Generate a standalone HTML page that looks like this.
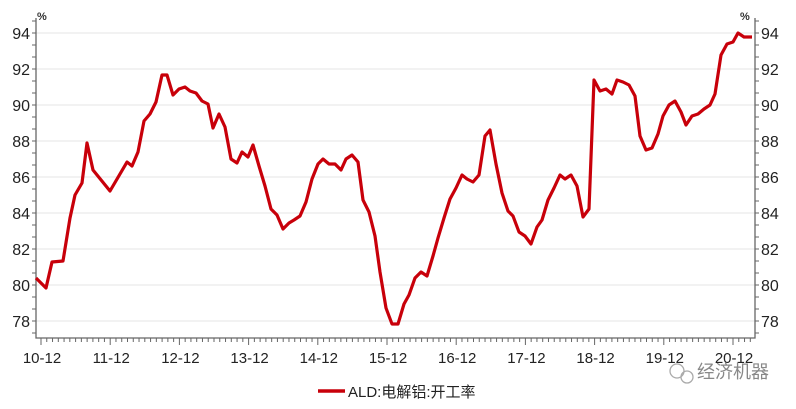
<!DOCTYPE html>
<html><head><meta charset="utf-8"><style>
body{margin:0;background:#fff;width:796px;height:404px;overflow:hidden}
svg text{font-family:"Liberation Sans","Noto Sans CJK SC",sans-serif}
</style></head><body>
<svg id="s" width="796" height="404" xmlns="http://www.w3.org/2000/svg"></svg>
<script>
const s=document.getElementById('s');let h='';
const Y=v=>33+(94-v)*18;
for(let v=78;v<=94;v+=2){const y=Y(v);
h+=`<line x1="36" x2="755" y1="${y}" y2="${y}" stroke="#e6e6e6" stroke-width="1"/>`;
h+=`<text x="30" y="${y+6}" font-size="16" text-anchor="end" fill="#222">${v}</text>`;
h+=`<text x="761" y="${y+6}" font-size="16" fill="#222">${v}</text>`;}
h+=`<path d="M36 18V338H755V18" fill="none" stroke="#666" stroke-width="1.3"/>`;
for(let y=21;y<=338;y+=12){h+=`<line x1="32" x2="36" y1="${y}" y2="${y}" stroke="#666"/><line x1="755" x2="759" y1="${y}" y2="${y}" stroke="#666"/>`;}
h+=`<text x="37" y="20" font-size="11" font-weight="bold" fill="#333">%</text><text x="740" y="20" font-size="11" font-weight="bold" fill="#333">%</text>`;
const labs=['10-12','11-12','12-12','13-12','14-12','15-12','16-12','17-12','18-12','19-12','20-12'];
for(let i=0;i<=125;i++){const x=41+i*69.2/12;if(x>755)break;const big=i%12==0;
h+=`<line x1="${x}" x2="${x}" y1="338" y2="${big?345:342}" stroke="#666"/>`;
if(big)h+=`<text x="${x+1}" y="363" font-size="15" text-anchor="middle" fill="#222">${labs[i/12]}</text>`;}
const pts=[[36,278],[46,288],[52,262],[63,261],[70,218],[75,195],[82,183],[87,143],[93,170],[110,191],[127,162],[132,166],[138,152],[144,121],[150,114],[156,102],[162,75],[167,75],[173,95],[179,89],[185,87],[190,91],[196,93],[202,101],[208,104],[213,128],[219,114],[225,127],[231,159],[237,163],[242,152],[248,157],[253,145],[259,166],[265,186],[271,209],[277,215],[283,229],[289,223],[294,220],[300,216],[306,202],[312,179],[318,164],[323,159],[329,164],[335,164],[341,170],[346,159],[352,155],[358,162],[363,200],[369,212],[375,236],[380,272],[386,308],[392,324],[398,324],[404,304],[409,295],[415,278],[421,272],[427,276],[433,256],[438,238],[444,218],[450,199],[456,188],[462,175],[467,179],[473,182],[479,175],[485,136],[490,130],[496,164],[502,193],[508,211],[513,216],[519,232],[525,236],[531,244],[537,227],[542,220],[548,200],[554,188],[560,175],[565,179],[571,175],[577,186],[583,217],[589,209],[594,80],[600,91],[606,89],[612,94],[617,80],[623,82],[629,85],[635,96],[640,136],[646,150],[652,148],[658,134],[663,116],[669,105],[675,101],[681,112],[686,125],[692,116],[698,114],[704,109],[710,105],[715,94],[721,55],[727,44],[733,42],[738,33],[744,37],[752,37]];
h+=`<polyline points="${pts.map(p=>p.join(',')).join(' ')}" fill="none" stroke="#c8000a" stroke-width="3.2" stroke-linejoin="round"/>`;
h+=`<line x1="318" x2="345" y1="391" y2="391" stroke="#c8000a" stroke-width="3.5"/><text x="348" y="397" font-size="15" fill="#222">ALD:电解铝:开工率</text>`;
h+=`<circle cx="677" cy="371" r="7" fill="none" stroke="#aaa" stroke-width="1.3"/><circle cx="687" cy="377" r="6" fill="none" stroke="#aaa" stroke-width="1.3"/><text x="697" y="378" font-size="18" fill="#888">经济机器</text>`;
s.innerHTML=h;
</script></body></html>
